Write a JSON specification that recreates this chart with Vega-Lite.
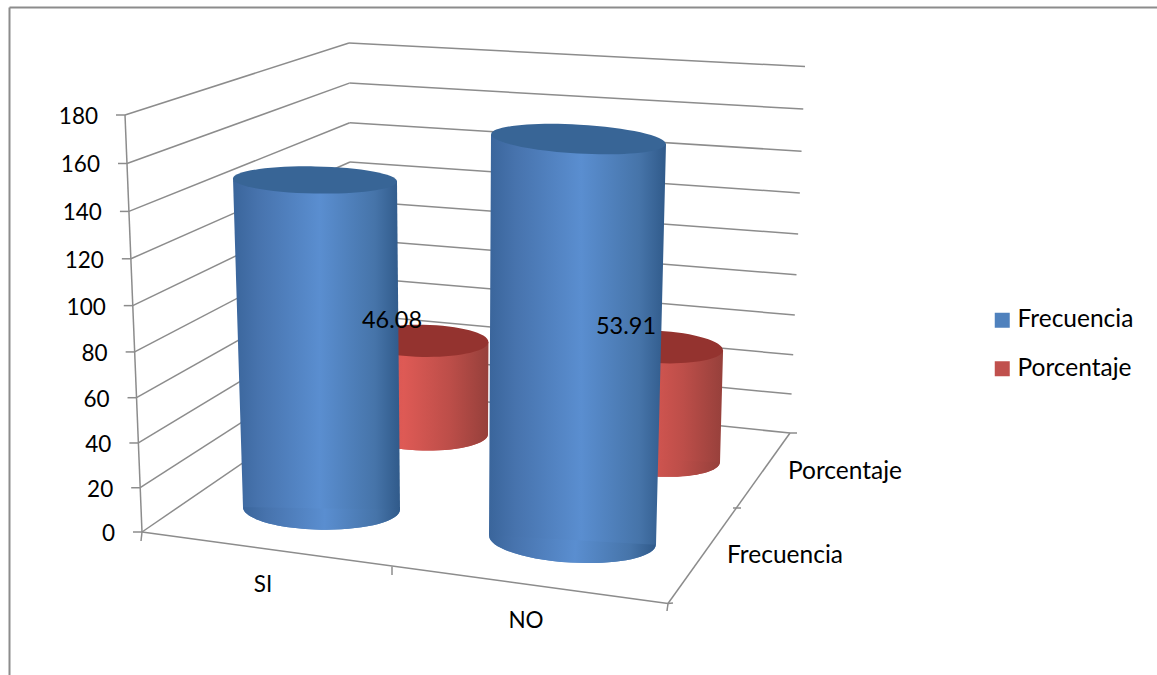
{
  "$schema": "https://vega.github.io/schema/vega-lite/v6.json",
  "width": 1148,
  "height": 668,
  "autosize": "none",
  "padding": {"left": 9, "top": 7, "right": 0, "bottom": 0},
  "background": "white",
  "config": {"view": {"stroke": null}, "text": {"font": "Lato", "fontSize": 22.5, "color": "#000000"}},
  "params": [
    {"name": "geom", "value": {
      "SI": {
        "Frecuencia": {"bx": 321.5, "by": 508.5, "brx": 78.5, "dx": -0.0461, "rise": 2.33, "grow": 0.0248, "tilt": 1},
        "Porcentaje": {"bx": 423, "by": 433, "brx": 65, "dx": 0, "rise": 2.0, "grow": 0.01, "tilt": 1}
      },
      "NO": {
        "Frecuencia": {"bx": 572.5, "by": 540, "brx": 83.5, "dx": 0.0364, "rise": 2.43, "grow": 0.0242, "tilt": 3.2},
        "Porcentaje": {"bx": 655, "by": 459, "brx": 65, "dx": 0.037, "rise": 2.08, "grow": 0.02, "tilt": 3}
      }
    }},
    {"name": "pts", "value": {
      "A": [142, 532], "Atop": [125, 115], "Astub": [141, 541],
      "B": [668, 603.5], "Bstub": [667, 611], "Bside": [673, 603],
      "C": [790, 433], "Cside": [797, 433],
      "M": [392, 566.5], "Mstub": [392, 575],
      "Dl": [733, 508], "Dr": [741, 508]
    }},
    {"name": "names", "value": {
      "SI": [263, 585], "NO": [526, 621], "Frecuencia": [785, 556], "Porcentaje": [845, 472]
    }}
  ],
  "datasets": {
    "ticks": [
      {"tick": 0}, {"tick": 20}, {"tick": 40}, {"tick": 60}, {"tick": 80},
      {"tick": 100}, {"tick": 120}, {"tick": 140}, {"tick": 160}, {"tick": 180}
    ],
    "edges": [
      {"from": "A", "to": "Atop"}, {"from": "A", "to": "B"}, {"from": "B", "to": "C"},
      {"from": "A", "to": "Astub"}, {"from": "M", "to": "Mstub"}, {"from": "B", "to": "Bstub"},
      {"from": "B", "to": "Bside"}, {"from": "C", "to": "Cside"}, {"from": "Dl", "to": "Dr"}
    ],
    "names": [
      {"name": "SI", "size": 22.5}, {"name": "NO", "size": 22.5}, {"name": "Frecuencia", "size": 24.5}, {"name": "Porcentaje", "size": 24.5}
    ],
    "cylinders": [
      {"cat": "SI", "series": "Frecuencia", "value": 141},
      {"cat": "NO", "series": "Frecuencia", "value": 165},
      {"cat": "SI", "series": "Porcentaje", "value": 46.08},
      {"cat": "NO", "series": "Porcentaje", "value": 53.91}
    ]
  },
  "encoding": {
    "x": {"field": "px", "type": "quantitative",
      "scale": {"domain": [9, 1157], "nice": false, "zero": false},
      "axis": {"orient": "top", "title": null, "ticks": false, "labels": false, "grid": false, "domainColor": "#8c8c8c", "domainWidth": 2}},
    "y": {"field": "py", "type": "quantitative",
      "scale": {"domain": [675, 7], "nice": false, "zero": false},
      "axis": {"orient": "left", "title": null, "ticks": false, "labels": false, "grid": false, "domainColor": "#8c8c8c", "domainWidth": 2}}
  },
  "layer": [
    {
      "data": {"name": "ticks"},
      "transform": [
        {"calculate": "datum.tick / 180", "as": "t"},
        {"calculate": "0.95 * datum.t / (1 - 0.05 * datum.t)", "as": "f"},
        {"calculate": "142 - 17 * datum.f", "as": "fx"},
        {"calculate": "532 - 417 * datum.f", "as": "fy"},
        {"calculate": "352 - 3 * datum.f", "as": "bx"},
        {"calculate": "388 - 345 * datum.f", "as": "by"},
        {"calculate": "790 + 15 * datum.f", "as": "rx"},
        {"calculate": "433 - 366.5 * datum.f", "as": "ry"},
        {"calculate": "datum.fx", "as": "px"},
        {"calculate": "datum.fy", "as": "py"},
        {"calculate": "datum.fx - 9", "as": "tickEnd"}
      ],
      "layer": [
        {
          "mark": {"type": "rule", "color": "#8c8c8c", "strokeWidth": 1.5},
          "encoding": {"x2": {"field": "bx"}, "y2": {"field": "by"}}
        },
        {
          "transform": [
            {"calculate": "datum.bx", "as": "px"},
            {"calculate": "datum.by", "as": "py"}
          ],
          "mark": {"type": "rule", "color": "#8c8c8c", "strokeWidth": 1.5},
          "encoding": {"x2": {"field": "rx"}, "y2": {"field": "ry"}}
        },
        {
          "mark": {"type": "rule", "color": "#8c8c8c", "strokeWidth": 1.5},
          "encoding": {"x2": {"field": "tickEnd"}, "y2": {"field": "fy"}}
        },
        {
          "mark": {"type": "text", "align": "right", "baseline": "middle", "dx": -27, "dy": 2},
          "encoding": {"text": {"field": "tick", "type": "quantitative"}}
        }
      ]
    },
    {
      "data": {"name": "edges"},
      "transform": [
        {"calculate": "pts[datum.from][0]", "as": "px"},
        {"calculate": "pts[datum.from][1]", "as": "py"},
        {"calculate": "pts[datum.to][0]", "as": "ex"},
        {"calculate": "pts[datum.to][1]", "as": "ey"}
      ],
      "mark": {"type": "rule", "color": "#8c8c8c", "strokeWidth": 1.5},
      "encoding": {"x2": {"field": "ex"}, "y2": {"field": "ey"}}
    },
    {
      "data": {"name": "names"},
      "transform": [
        {"calculate": "names[datum.name][0]", "as": "px"},
        {"calculate": "names[datum.name][1]", "as": "py"}
      ],
      "mark": {"type": "text", "align": "center", "baseline": "middle"},
      "encoding": {
        "text": {"field": "name", "type": "nominal"},
        "size": {"field": "size", "type": "quantitative", "scale": null}
      }
    },
    {
      "data": {"name": "cylinders"},
      "transform": [
        {"calculate": "[0, datum.value]", "as": "levels"},
        {"flatten": ["levels"], "as": ["level"]},
        {"calculate": "geom[datum.cat][datum.series].bx + geom[datum.cat][datum.series].dx * datum.level", "as": "px"},
        {"calculate": "geom[datum.cat][datum.series].by - geom[datum.cat][datum.series].rise * datum.level", "as": "py"},
        {"calculate": "geom[datum.cat][datum.series].brx + geom[datum.cat][datum.series].grow * datum.level", "as": "rad"},
        {"calculate": "geom[datum.cat][datum.series].tilt", "as": "tilt"},
        {"calculate": "tan(datum.tilt * PI / 180)", "as": "slope"},
        {"calculate": "4 * datum.rad * datum.rad", "as": "sz"},
        {"calculate": "datum.cat + datum.series", "as": "key"}
      ],
      "layer": [
        {
          "transform": [{"filter": "datum.level == 0"}],
          "mark": {"type": "point", "filled": true, "opacity": 1, "shape": "M-1,0 C-1,-0.149 -0.5523,-0.27 0,-0.27 C0.5523,-0.27 1,-0.149 1,0 C1,0.149 0.5523,0.27 0,0.27 C-0.5523,0.27 -1,0.149 -1,0 Z"},
          "encoding": {
            "size": {"field": "sz", "type": "quantitative", "scale": null},
            "angle": {"field": "tilt", "type": "quantitative", "scale": null},
            "color": {"field": "series", "type": "nominal",
              "scale": {"domain": ["Frecuencia", "Porcentaje"], "range": ["#4f81bd", "#c0504d"]},
              "legend": {"orient": "none", "legendX": 981, "legendY": 301, "title": null, "symbolType": "square", "symbolSize": 225, "symbolStrokeWidth": 0, "symbolOpacity": 1, "labelFont": "Lato", "labelFontSize": 24.5, "labelColor": "#000000", "labelOffset": 3, "rowPadding": 23.5, "labelLimit": 200}}
          }
        },
        {
          "transform": [{"filter": "datum.series == 'Porcentaje' && datum.level == 0"}],
          "mark": {"type": "point", "filled": true, "opacity": 1,
            "fill": {"gradient": "linear", "x1": 0, "y1": 0, "x2": 1, "y2": 0, "stops": [
              {"offset": 0, "color": "#c9504c"}, {"offset": 0.35, "color": "#de5a55"}, {"offset": 0.7, "color": "#bd4e49"}, {"offset": 1, "color": "#96403b"}]},
            "shape": "M-1,0 C-1,-0.149 -0.5523,-0.27 0,-0.27 C0.5523,-0.27 1,-0.149 1,0 C1,0.149 0.5523,0.27 0,0.27 C-0.5523,0.27 -1,0.149 -1,0 Z"},
          "encoding": {
            "size": {"field": "sz", "type": "quantitative", "scale": null},
            "angle": {"field": "tilt", "type": "quantitative", "scale": null}
          }
        },
        {
          "transform": [
            {"filter": "datum.series == 'Porcentaje' && datum.level == 0"},
            {"calculate": "geom[datum.cat][datum.series]", "as": "g"},
            {"calculate": "datum.g.bx - datum.g.brx", "as": "xL0"},
            {"calculate": "datum.g.by - datum.g.brx * datum.slope", "as": "yL0"},
            {"calculate": "datum.g.bx + datum.g.brx", "as": "xR0"},
            {"calculate": "datum.g.by + datum.g.brx * datum.slope", "as": "yR0"},
            {"calculate": "datum.g.bx + datum.g.dx * datum.value", "as": "topC"},
            {"calculate": "datum.g.by - datum.g.rise * datum.value", "as": "topY"},
            {"calculate": "datum.g.brx + datum.g.grow * datum.value", "as": "topR"},
            {"calculate": "datum.topC - datum.topR", "as": "xL1"},
            {"calculate": "datum.topY - datum.topR * datum.slope", "as": "yL1"},
            {"calculate": "datum.topC + datum.topR", "as": "xR1"},
            {"calculate": "datum.topY + datum.topR * datum.slope", "as": "yR1"},
            {"calculate": "[datum.yL1, datum.yR1, datum.yL0, datum.yR0]", "as": "corners"},
            {"flatten": ["corners"], "as": ["py"]},
            {"calculate": "datum.xL0 + (datum.xL1 - datum.xL0) * (datum.py - datum.yL0) / (datum.yL1 - datum.yL0)", "as": "edgeL"},
            {"calculate": "datum.xR0 + (datum.xR1 - datum.xR0) * (datum.py - datum.yR0) / (datum.yR1 - datum.yR0)", "as": "edgeR"},
            {"calculate": "datum.py == datum.yR0 ? datum.edgeR : datum.edgeL", "as": "px"},
            {"calculate": "datum.py == datum.yL1 ? datum.edgeL : datum.edgeR", "as": "right"}
          ],
          "mark": {"type": "area", "orient": "horizontal", "opacity": 1,
            "fill": {"gradient": "linear", "x1": 0, "y1": 0, "x2": 1, "y2": 0, "stops": [
              {"offset": 0, "color": "#c9504c"}, {"offset": 0.35, "color": "#de5a55"}, {"offset": 0.7, "color": "#bd4e49"}, {"offset": 1, "color": "#96403b"}]}},
          "encoding": {
            "x2": {"field": "right"},
            "detail": {"field": "key", "type": "nominal"}
          }
        },
        {
          "transform": [{"filter": "datum.series == 'Porcentaje' && datum.level > 0"}],
          "mark": {"type": "point", "filled": true, "opacity": 1, "fill": "#94332f",
            "shape": "M-1,0 C-1,-0.135 -0.5523,-0.245 0,-0.245 C0.5523,-0.245 1,-0.135 1,0 C1,0.135 0.5523,0.245 0,0.245 C-0.5523,0.245 -1,0.135 -1,0 Z"},
          "encoding": {
            "size": {"field": "sz", "type": "quantitative", "scale": null},
            "angle": {"field": "tilt", "type": "quantitative", "scale": null}
          }
        },
        {
          "transform": [{"filter": "datum.series == 'Frecuencia' && datum.level == 0"}],
          "mark": {"type": "point", "filled": true, "opacity": 1,
            "fill": {"gradient": "linear", "x1": 0, "y1": 0, "x2": 1, "y2": 0, "stops": [
              {"offset": 0, "color": "#3a659b"}, {"offset": 0.15, "color": "#4773ad"}, {"offset": 0.52, "color": "#5a8ed0"}, {"offset": 0.85, "color": "#4674a9"}, {"offset": 1, "color": "#305a8a"}]},
            "shape": "M-1,0 C-1,-0.149 -0.5523,-0.27 0,-0.27 C0.5523,-0.27 1,-0.149 1,0 C1,0.149 0.5523,0.27 0,0.27 C-0.5523,0.27 -1,0.149 -1,0 Z"},
          "encoding": {
            "size": {"field": "sz", "type": "quantitative", "scale": null},
            "angle": {"field": "tilt", "type": "quantitative", "scale": null}
          }
        },
        {
          "transform": [
            {"filter": "datum.series == 'Frecuencia' && datum.level == 0"},
            {"calculate": "geom[datum.cat][datum.series]", "as": "g"},
            {"calculate": "datum.g.bx - datum.g.brx", "as": "xL0"},
            {"calculate": "datum.g.by - datum.g.brx * datum.slope", "as": "yL0"},
            {"calculate": "datum.g.bx + datum.g.brx", "as": "xR0"},
            {"calculate": "datum.g.by + datum.g.brx * datum.slope", "as": "yR0"},
            {"calculate": "datum.g.bx + datum.g.dx * datum.value", "as": "topC"},
            {"calculate": "datum.g.by - datum.g.rise * datum.value", "as": "topY"},
            {"calculate": "datum.g.brx + datum.g.grow * datum.value", "as": "topR"},
            {"calculate": "datum.topC - datum.topR", "as": "xL1"},
            {"calculate": "datum.topY - datum.topR * datum.slope", "as": "yL1"},
            {"calculate": "datum.topC + datum.topR", "as": "xR1"},
            {"calculate": "datum.topY + datum.topR * datum.slope", "as": "yR1"},
            {"calculate": "[datum.yL1, datum.yR1, datum.yL0, datum.yR0]", "as": "corners"},
            {"flatten": ["corners"], "as": ["py"]},
            {"calculate": "datum.xL0 + (datum.xL1 - datum.xL0) * (datum.py - datum.yL0) / (datum.yL1 - datum.yL0)", "as": "edgeL"},
            {"calculate": "datum.xR0 + (datum.xR1 - datum.xR0) * (datum.py - datum.yR0) / (datum.yR1 - datum.yR0)", "as": "edgeR"},
            {"calculate": "datum.py == datum.yR0 ? datum.edgeR : datum.edgeL", "as": "px"},
            {"calculate": "datum.py == datum.yL1 ? datum.edgeL : datum.edgeR", "as": "right"}
          ],
          "mark": {"type": "area", "orient": "horizontal", "opacity": 1,
            "fill": {"gradient": "linear", "x1": 0, "y1": 0, "x2": 1, "y2": 0, "stops": [
              {"offset": 0, "color": "#3a659b"}, {"offset": 0.15, "color": "#4773ad"}, {"offset": 0.52, "color": "#5a8ed0"}, {"offset": 0.85, "color": "#4674a9"}, {"offset": 1, "color": "#305a8a"}]}},
          "encoding": {
            "x2": {"field": "right"},
            "detail": {"field": "key", "type": "nominal"}
          }
        },
        {
          "transform": [{"filter": "datum.series == 'Frecuencia' && datum.level > 0"}],
          "mark": {"type": "point", "filled": true, "opacity": 1, "fill": "#386596",
            "shape": "M-1,0 C-1,-0.091 -0.5523,-0.165 0,-0.165 C0.5523,-0.165 1,-0.091 1,0 C1,0.091 0.5523,0.165 0,0.165 C-0.5523,0.165 -1,0.091 -1,0 Z"},
          "encoding": {
            "size": {"field": "sz", "type": "quantitative", "scale": null},
            "angle": {"field": "tilt", "type": "quantitative", "scale": null}
          }
        },
        {
          "transform": [{"filter": "datum.series == 'Porcentaje' && datum.level > 0"}],
          "mark": {"type": "text", "align": "center", "baseline": "middle", "dx": -31, "dy": -20, "fontSize": 23.5},
          "encoding": {"text": {"field": "value", "type": "quantitative", "format": ".2f"}}
        }
      ]
    }
  ]
}
